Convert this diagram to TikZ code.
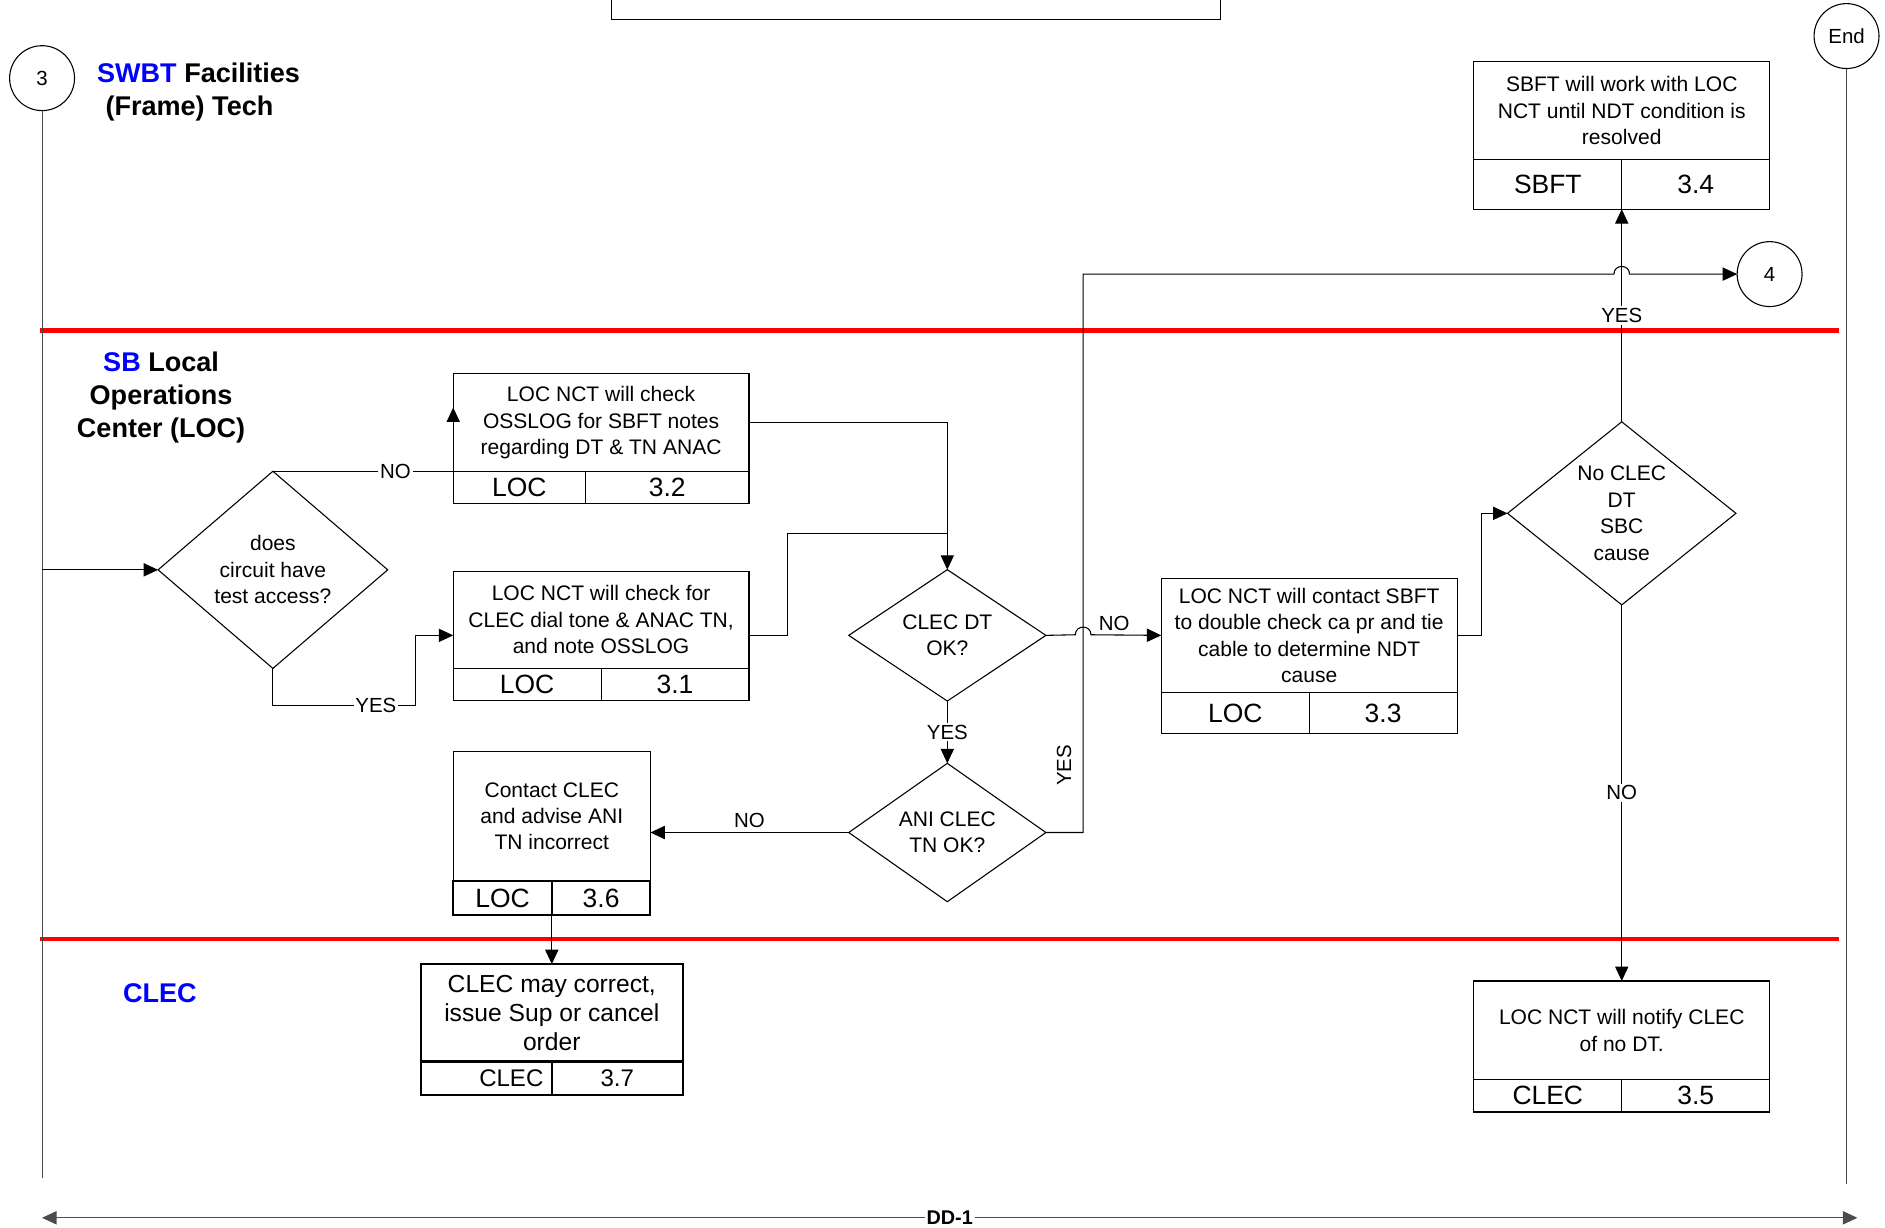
\documentclass[tikz,border=0pt]{standalone}
\usepackage{fontspec}
\setmainfont{Liberation Sans}
\usetikzlibrary{shapes.geometric,arrows.meta}
\begin{document}
\begin{tikzpicture}[x=1pt, y=-1pt, >={Triangle[length=12pt,width=11pt]}, line width=0.9pt,
	box/.style={draw, inner sep=0pt, outer sep=0pt, align=center, font=\fontsize{17.5}{22}\selectfont},
	cell/.style={draw, inner sep=0pt, outer sep=0pt, font=\fontsize{22}{26}\selectfont},
	dia/.style={diamond, draw, aspect=1, inner sep=0pt, outer sep=0pt, align=center, font=\fontsize{17.5}{22}\selectfont},
	conn/.style={circle, draw, minimum size=54pt, inner sep=0pt, outer sep=0pt, font=\fontsize{17}{20}\selectfont},
	lbl/.style={fill=white, inner sep=1.5pt, font=\fontsize{17}{20}\selectfont},
	lane/.style={align=center, font=\bfseries\fontsize{22.5}{27.5}\selectfont},
	swim/.style={red, line width=3.6pt}]
	\useasboundingbox (0,0) rectangle (1568,1021);
	\draw[swim] (33,275) -- (1530,275);
	\draw[swim] (33,781) -- (1530,781);
	\draw (509,0) -- (509,16) -- (1015,16) -- (1015,0);
	\node[conn] (c3) at (35,65) {3}; \node[conn] (cend) at (1536,30) {End}; \node[conn] (c4) at (1472,228) {4};
	\coordinate (l3) at (35,980); \coordinate (lend) at (1536,985);
	\draw[gray!60!black] (c3.south) -- (l3); \draw[gray!60!black] (cend.south) -- (lend);
	\node[lane, align=left, anchor=west] (t1) at (77,76.5) {\textcolor{blue}{SWBT} Facilities\\\hspace*{7pt}(Frame) Tech};
	\node[lane] (t2) at (134,330.5) {\textcolor{blue}{SB} Local\\Operations\\Center (LOC)};
	\node[lane, blue] (t3) at (133,826) {CLEC};
	\node[dia, minimum width=191pt, minimum height=164pt] (d1) at (227,474) {does\\circuit have\\test access?};
	\node[dia, minimum width=164pt, minimum height=108pt] (d2) at (788,528.5) {CLEC DT\\OK?};
	\node[dia, minimum width=164pt, minimum height=109pt] (d3) at (788,692.5) {ANI CLEC\\TN OK?};
	\node[dia, minimum width=190pt, minimum height=150pt] (d4) at (1349,427) {No CLEC\\DT\\SBC\\cause};
	\node[box, minimum width=246pt, minimum height=81pt] (b32) at (500,351.5) {LOC NCT will check\\OSSLOG for SBFT notes\\regarding DT \& TN ANAC};
	\node[cell, minimum width=110pt, minimum height=27pt, anchor=north west] (b32a) at (b32.south west) {LOC};
	\node[cell, minimum width=136pt, minimum height=27pt, anchor=north east] (b32b) at (b32.south east) {3.2};
	\node[box, minimum width=246pt, minimum height=81pt] (b31) at (500,515.5) {LOC NCT will check for\\CLEC dial tone \& ANAC TN,\\and note OSSLOG};
	\node[cell, minimum width=123pt, minimum height=27pt, anchor=north west] (b31a) at (b31.south west) {LOC};
	\node[cell, minimum width=123pt, minimum height=27pt, anchor=north east] (b31b) at (b31.south east) {3.1};
	\node[box, minimum width=246pt, minimum height=95pt] (b33) at (1089,528.5) {LOC NCT will contact SBFT\\to double check ca pr and tie\\cable to determine NDT\\cause};
	\node[cell, minimum width=123pt, minimum height=34pt, anchor=north west] (b33a) at (b33.south west) {LOC};
	\node[cell, minimum width=123pt, minimum height=34pt, anchor=north east] (b33b) at (b33.south east) {3.3};
	\node[box, minimum width=246pt, minimum height=82pt] (b34) at (1349,92) {SBFT will work with LOC\\NCT until NDT condition is\\resolved};
	\node[cell, minimum width=123pt, minimum height=41pt, anchor=north west] (b34a) at (b34.south west) {SBFT};
	\node[cell, minimum width=123pt, minimum height=41pt, anchor=north east] (b34b) at (b34.south east) {3.4};
	\node[box, minimum width=246pt, minimum height=82pt] (b35) at (1349,857) {LOC NCT will notify CLEC\\of no DT.};
	\node[cell, minimum width=123pt, minimum height=27pt, anchor=north west] (b35a) at (b35.south west) {CLEC};
	\node[cell, minimum width=123pt, minimum height=27pt, anchor=north east] (b35b) at (b35.south east) {3.5};
	\node[box, minimum width=164pt, minimum height=108pt] (b36) at (459,679) {Contact CLEC\\and advise ANI\\TN incorrect};
	\node[cell, line width=1.8pt, minimum width=82pt, minimum height=28pt, anchor=north west] (b36a) at (b36.south west) {LOC};
	\node[cell, line width=1.8pt, minimum width=82pt, minimum height=28pt, anchor=north east] (b36b) at (b36.south east) {3.6};
	\node[box, line width=1.8pt, minimum width=218pt, minimum height=81pt, font=\fontsize{20.5}{24}\selectfont] (b37) at (459,842.5) {CLEC may correct,\\issue Sup or cancel\\order};
	\node[cell, line width=1.8pt, minimum width=109pt, minimum height=28pt, text width=95pt, align=right, font=\fontsize{20}{24}\selectfont, anchor=north west] (b37a) at (b37.south west) {CLEC};
	\node[cell, line width=1.8pt, minimum width=109pt, minimum height=28pt, font=\fontsize{20}{24}\selectfont, anchor=north east] (b37b) at (b37.south east) {3.7};
	\coordinate (n32) at (377,339); \coordinate (y31) at (346,587); \coordinate (j1) at (655,444);
	\coordinate (k4) at (901,228); \coordinate (k3) at (1232,427);
	\draw[->] (d1.west -| c3) -- (d1.west);
	\draw[->] (d1.north) -- node[lbl, pos=0.68] {NO} (d1.north -| b32.west) -- (n32);
	\draw[->] (d1.south) |- node[lbl, pos=0.86] {YES} (y31) |- (b31.west |- d2.west);
	\draw[->] (b32.east) -| (d2.north);
	\draw (b31.east |- d2.west) -| (j1) -- (j1 -| d2.north);
	\draw[->] (d2.east) -- (894.5,528) .. controls (894.5,519.5) and (907.5,519.5) .. (907.5,528) -- node[above, pos=0.33, font=\fontsize{17}{20}\selectfont] {NO} (d2.east -| b33.west);
	\draw[->] (d2.south) -- node[lbl] {YES} (d3.north);
	\draw[->] (d3.west) -- node[above, font=\fontsize{17}{20}\selectfont] {NO} (d3.west -| b36.east);
	\draw[->] (d3.east) -| node[rotate=90, above=6pt, pos=0.56, font=\fontsize{17}{20}\selectfont] {YES} (k4) -- (1342.5,228) .. controls (1342.5,219.5) and (1355.5,219.5) .. (1355.5,228) -- (c4.west);
	\draw[->] (b33.east) -| (k3) -- (d4.west);
	\draw[->] (d4.north) -- node[lbl] {YES} (b34a.south east);
	\draw[->] (d4.south) -- node[lbl] {NO} (b35.north);
	\draw[->] (b36a.south east) -- (b37.north);
	\draw[gray!60!black, <->] (35,1013) -- node[fill=white, text=black, inner sep=1.5pt, font=\bfseries\fontsize{16.5}{18}\selectfont] {DD-1} (1545,1013);
\end{tikzpicture}
\end{document}
